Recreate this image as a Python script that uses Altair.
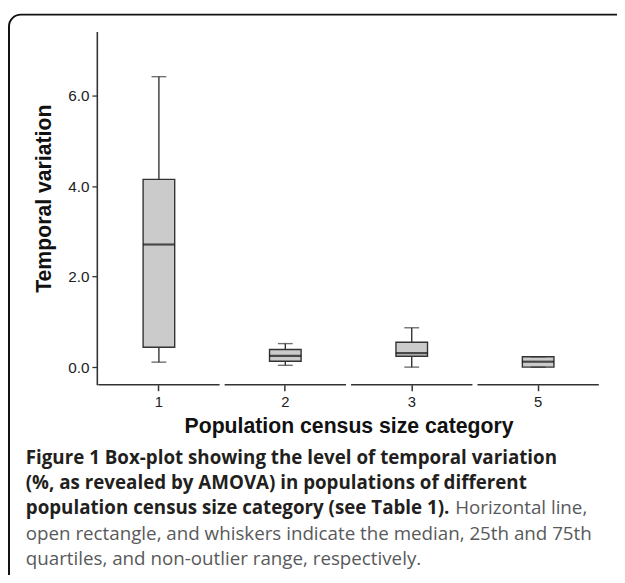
import altair as alt
import pandas as pd

# ---- data ----
categories = ["1", "2", "3", "5"]
whisker_low = [0.11, 0.04, 0.00, 0.00]
quartile_1 = [0.44, 0.13, 0.24, 0.00]
medians = [2.71, 0.25, 0.31, 0.12]
quartile_3 = [4.15, 0.39, 0.55, 0.23]
whisker_high = [6.42, 0.52, 0.87, 0.23]
y_ticks = [0, 2, 4, 6]

caption_bold = [
    "Figure 1 Box-plot showing the level of temporal variation",
    "(%, as revealed by AMOVA) in populations of different",
    "population census size category (see Table 1).",
]
caption_regular = [
    "Horizontal line,",
    "open rectangle, and whiskers indicate the median, 25th and 75th",
    "quartiles, and non-outlier range, respectively.",
]

df = pd.DataFrame({
    "cat": categories,
    "lo": whisker_low,
    "q1": quartile_1,
    "med": medians,
    "q3": quartile_3,
    "hi": whisker_high,
})

W, H = 510, 358
AX = "#333333"
BOX_W = 32

xscale = alt.Scale(domain=categories, paddingInner=0.04, paddingOuter=0.011)
yscale = alt.Scale(domain=[-0.39, 7.42], nice=False, zero=False)

x_enc = alt.X(
    "cat:N", scale=xscale, sort=categories,
    axis=alt.Axis(
        title="Population census size category", domain=False, ticks=True,
        tickSize=6, tickColor=AX, tickWidth=1.5, labelAngle=0,
        labelFontSize=15, labelFont="Liberation Sans", labelColor="#222",
        labelPadding=4, titleFont="Liberation Sans", titleFontSize=21.5,
        titleFontWeight="bold", titleColor="#111", titlePadding=6,
        grid=False,
    ),
)

y_axis = alt.Axis(
    title="Temporal variation", values=y_ticks, format=".1f",
    domain=True, domainColor=AX, domainWidth=1.6, ticks=True, tickSize=5,
    tickColor=AX, tickWidth=1.3, labelFontSize=15.5, labelFont="Liberation Sans",
    labelColor="#222", labelPadding=3, titleFont="Liberation Sans",
    titleFontSize=21.5, titleFontWeight="bold", titleColor="#111",
    titlePadding=12, titleY=169, grid=False,
)

base = alt.Chart(df)

whisker = base.mark_rule(color=AX, strokeWidth=1.4).encode(
    x=x_enc,
    y=alt.Y("lo:Q", scale=yscale, axis=y_axis),
    y2="hi:Q",
)

box = base.mark_bar(size=BOX_W, color="#cbcbcb", stroke=AX, strokeWidth=1.4).encode(
    x=alt.X("cat:N", scale=xscale, sort=categories),
    y=alt.Y("q1:Q", scale=yscale),
    y2="q3:Q",
)

median = base.mark_tick(size=BOX_W, thickness=2.2, color="#111").encode(
    x=alt.X("cat:N", scale=xscale, sort=categories),
    y=alt.Y("med:Q", scale=yscale),
)

cap_lo = base.mark_tick(size=15, thickness=1.4, color=AX).encode(
    x=alt.X("cat:N", scale=xscale, sort=categories),
    y=alt.Y("lo:Q", scale=yscale),
)
cap_hi = base.mark_tick(size=15, thickness=1.4, color=AX).encode(
    x=alt.X("cat:N", scale=xscale, sort=categories),
    y=alt.Y("hi:Q", scale=yscale),
)

# broken x-axis baseline (one segment per category band)
axis_seg = base.mark_rect(color=AX).encode(
    x=alt.X("cat:N", scale=xscale, sort=categories),
    y=alt.value(H - 0.8),
    y2=alt.value(H + 0.8),
)

# figure frame
frame = alt.Chart(pd.DataFrame({"k": [0]})).mark_rect(
    fill=None, stroke="#111", strokeWidth=2, cornerRadius=12
).encode(
    x=alt.value(-89), x2=alt.value(560),
    y=alt.value(-17), y2=alt.value(600),
)

# caption
CAP_FONT = "Open Sans"
CAP_SIZE = 19
LINE = 25.7
X0 = -72
Y0 = 438
cap_layers = []
for i, t in enumerate(caption_bold):
    cap_layers.append(
        alt.Chart(pd.DataFrame({"t": [t]})).mark_text(
            align="left", baseline="alphabetic", font=CAP_FONT,
            fontSize=CAP_SIZE, fontWeight="bold", color="#231f20",
        ).encode(x=alt.value(X0), y=alt.value(Y0 + i * LINE), text="t:N")
    )
reg_x = [363, X0, X0]
reg_line = [2, 3, 4]
for t, xx, li in zip(caption_regular, reg_x, reg_line):
    cap_layers.append(
        alt.Chart(pd.DataFrame({"t": [t]})).mark_text(
            align="left", baseline="alphabetic", font=CAP_FONT,
            fontSize=CAP_SIZE, fontWeight="normal", color="#58595b",
        ).encode(x=alt.value(xx), y=alt.value(Y0 + li * LINE), text="t:N")
    )

chart = alt.layer(
    frame, whisker, box, median, cap_lo, cap_hi, axis_seg, *cap_layers
).properties(
    width=W, height=H,
    autosize=alt.AutoSizeParams(type="none"),
    padding={"left": 90, "top": 20, "right": 17, "bottom": 189},
    background="white",
).configure_view(strokeWidth=0)

chart.save("out.html", embed_options={"renderer": "svg", "actions": False})
